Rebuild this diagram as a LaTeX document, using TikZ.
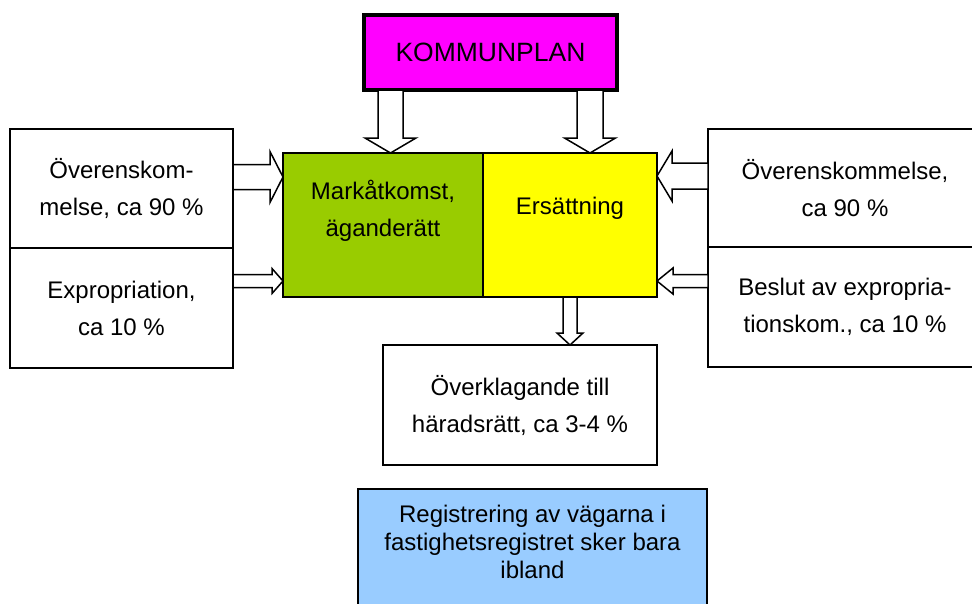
\documentclass[tikz,border=0pt]{standalone}
\usepackage{fontspec}
\setmainfont{Liberation Sans}
\usetikzlibrary{calc,positioning}

\definecolor{lila}{HTML}{FF00FF}
\definecolor{gron}{HTML}{99CC00}
\definecolor{gul}{HTML}{FFFF00}
\definecolor{ljusbla}{HTML}{99CCFF}

% hollow block arrow: start, tip, half shaft, half head, head length
\newcommand{\blokpil}[5]{%
  \coordinate (pa) at #1; \coordinate (pz) at #2;
  \coordinate (pb) at ($(pz)!#5!(pa)$);
  \draw[pil] ($(pa)!#3!90:(pz)$) -- ($(pb)!#3!90:(pz)$) -- ($(pb)!#4!90:(pz)$) -- (pz)
    -- ($(pb)!#4!-90:(pz)$) -- ($(pb)!#3!-90:(pz)$) -- ($(pa)!#3!-90:(pz)$) -- cycle;}

\begin{document}
\begin{tikzpicture}[x=1pt, y=-1pt, inner sep=0pt, outer sep=0pt]

    \tikzstyle{ruta}=[rectangle, draw=black, line width=1.6pt, fill=white, align=center, font=\fontsize{24}{37}\selectfont]
    \tikzstyle{tekst}=[align=center, font=\fontsize{24}{37}\selectfont]
    \tikzstyle{pil}=[draw=black, fill=white, line width=1.5pt, line join=miter]

    \clip (0,0) rectangle (972,603);

    \node[ruta, fill=lila, line width=3.6pt, minimum width=253pt, minimum height=75pt, font=\fontsize{26.5}{30}\selectfont] (K) at (490.5,52.5) {KOMMUNPLAN};

    \node[ruta, minimum width=223pt, minimum height=119pt] (V1) at (121.5,188.5) {Överenskom-\\melse, ca 90 \%};
    \node[ruta, minimum width=223pt, minimum height=120pt, below=0pt of V1] (V2) {Expropriation,\\ca 10 \%};

    \node[ruta, fill=gron, minimum width=200pt, minimum height=144pt] (M) at (383,225) {};
    \node[ruta, fill=gul, minimum width=174pt, minimum height=144pt, right=0pt of M] (E) {};
    \node[tekst] (Mt) at ([yshift=14pt]M.center) {Markåtkomst,\\äganderätt};
    \node[tekst] (Et) at ([yshift=17pt]E.center) {Ersättning};

    \node[ruta, minimum width=274pt, minimum height=118pt] (H1) at (845,188) {Överenskommelse,\\ca 90 \%};
    \node[ruta, minimum width=274pt, minimum height=120pt, below=0pt of H1] (H2) {Beslut av expropria-\\tionskom., ca 10 \%};

    \node[ruta, minimum width=274pt, minimum height=120pt] (O) at (520,405) {Överklagande till\\häradsrätt, ca 3-4 \%};

    \node[ruta, fill=ljusbla, line width=2.6pt, minimum width=349pt, minimum height=160pt] (R) at (532.5,569) {};
    \node[tekst, font=\fontsize{24}{28}\selectfont] (Rt) at ([yshift=27pt]R.center) {Registrering av vägarna i\\fastighetsregistret sker bara\\ibland};

    \blokpil{(K.south -| 390.5,0)}{(M.north -| 390.5,0)}{12.5pt}{25.5pt}{15pt}
    \blokpil{(K.south -| 590,0)}{(E.north -| 590,0)}{13pt}{25.5pt}{15pt}
    \blokpil{(V1.east |- 0,177)}{(M.west |- 0,177)}{12.5pt}{25.5pt}{13pt}
    \blokpil{(V2.east |- 0,281)}{(M.west |- 0,281)}{6.5pt}{12.5pt}{11pt}
    \blokpil{(H1.west |- 0,176)}{(E.east |- 0,176)}{13pt}{25pt}{15pt}
    \blokpil{(H2.west |- 0,281)}{(E.east |- 0,281)}{6.5pt}{13pt}{16pt}
    \blokpil{(E.south)}{(O.north -| E.south)}{7pt}{13pt}{12pt}
  \end{tikzpicture}
\end{document}
